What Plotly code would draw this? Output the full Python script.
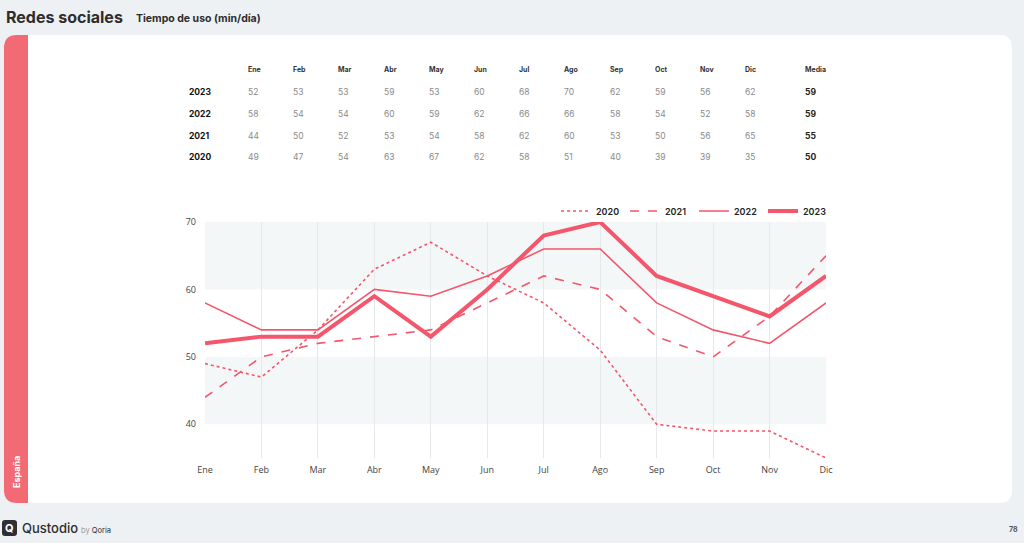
import plotly.graph_objects as go

W, H = 1024, 543

months = ["Ene", "Feb", "Mar", "Abr", "May", "Jun", "Jul", "Ago", "Sep", "Oct", "Nov", "Dic"]
years = ["2023", "2022", "2021", "2020"]
v2023 = [52, 53, 53, 59, 53, 60, 68, 70, 62, 59, 56, 62]
v2022 = [58, 54, 54, 60, 59, 62, 66, 66, 58, 54, 52, 58]
v2021 = [44, 50, 52, 53, 54, 58, 62, 60, 53, 50, 56, 65]
v2020 = [49, 47, 54, 63, 67, 62, 58, 51, 40, 39, 39, 35]
media = [59, 59, 55, 50]
y_ticks = [40, 50, 60, 70]

table_rows = [v2023, v2022, v2021, v2020]

RED = "#f4566b"
BAND = "#f26a74"
PAGE = "#eef1f4"
FONT = "Inter"


def px(x):
    return x / W


def py(y):
    return 1 - y / H


def rounded_rect(x0, y0, x1, y1, r, corners=(True, True, True, True)):
    rx, ry = r / W, r / H
    X0, X1 = px(x0), px(x1)
    Y0, Y1 = py(y0), py(y1)
    tl, tr, br, bl = corners
    p = []
    p.append(f"M {X0 + (rx if tl else 0)},{Y0}")
    if tr:
        p.append(f"L {X1 - rx},{Y0} Q {X1},{Y0} {X1},{Y0 - ry}")
    else:
        p.append(f"L {X1},{Y0}")
    if br:
        p.append(f"L {X1},{Y1 + ry} Q {X1},{Y1} {X1 - rx},{Y1}")
    else:
        p.append(f"L {X1},{Y1}")
    if bl:
        p.append(f"L {X0 + rx},{Y1} Q {X0},{Y1} {X0},{Y1 + ry}")
    else:
        p.append(f"L {X0},{Y1}")
    if tl:
        p.append(f"L {X0},{Y0 - ry} Q {X0},{Y0} {X0 + rx},{Y0}")
    p.append("Z")
    return " ".join(p)


fig = go.Figure()

styles = [
    ("2020", v2020, dict(color=RED, width=1.6, dash="dot")),
    ("2021", v2021, dict(color=RED, width=1.6, dash="dash")),
    ("2022", v2022, dict(color=RED, width=1.6)),
    ("2023", v2023, dict(color=RED, width=4)),
]
for name, vals, line in styles:
    fig.add_trace(go.Scatter(x=months, y=vals, mode="lines", name=name, line=line,
                             hoverinfo="skip"))

shapes = []
shapes.append(dict(type="path", xref="paper", yref="paper",
                   path=rounded_rect(4, 35, 1012, 503, 13), fillcolor="white",
                   line=dict(width=0), layer="below"))
shapes.append(dict(type="path", xref="paper", yref="paper",
                   path=rounded_rect(4, 35, 28, 503, 13, (True, False, False, True)),
                   fillcolor=BAND, line=dict(width=0), layer="below"))
for lo, hi in [(60, 70), (40, 50)]:
    shapes.append(dict(type="rect", xref="x domain", yref="y", x0=0, x1=1, y0=lo, y1=hi,
                       fillcolor="#f4f7f8", line=dict(width=0), layer="below"))
shapes.append(dict(type="path", xref="paper", yref="paper",
                   path=rounded_rect(2, 520, 17, 536, 3), fillcolor="#2f2f33",
                   line=dict(width=0), layer="above"))

ann = []
ann.append(dict(text="<b>Redes sociales</b>", x=px(4), y=py(17), xref="paper", yref="paper",
                xanchor="left", yanchor="middle", showarrow=False,
                font=dict(family=FONT, size=16, color="#2d2d2d")))
ann.append(dict(text="<b>Tiempo de uso (min/día)</b>", x=px(134), y=py(18), xref="paper", yref="paper",
                xanchor="left", yanchor="middle", showarrow=False,
                font=dict(family=FONT, size=10.5, color="#2d2d2d")))
col_left0, col_step = 246, 45.2
for i, m in enumerate(months):
    ann.append(dict(text=f"<b>{m}</b>", x=px(col_left0 + col_step * i), y=py(69), xref="paper",
                    yref="paper", xanchor="left", yanchor="middle", showarrow=False,
                    font=dict(family=FONT, size=7, color="#333")))
ann.append(dict(text="<b>Media</b>", x=px(803), y=py(69), xref="paper", yref="paper",
                xanchor="left", yanchor="middle", showarrow=False,
                font=dict(family=FONT, size=7, color="#333")))
row_y = [92, 114, 136, 157]
for r, (yr, vals, md) in enumerate(zip(years, table_rows, media)):
    ann.append(dict(text=f"<b>{yr}</b>", x=px(187), y=py(row_y[r]), xref="paper", yref="paper",
                    xanchor="left", yanchor="middle", showarrow=False,
                    font=dict(family=FONT, size=8.5, color="#111")))
    for i, v in enumerate(vals):
        ann.append(dict(text=str(v), x=px(col_left0 + col_step * i), y=py(row_y[r]), xref="paper",
                        yref="paper", xanchor="left", yanchor="middle", showarrow=False,
                        font=dict(family=FONT, size=8.5, color="#8a8a8a")))
    ann.append(dict(text=f"<b>{md}</b>", x=px(803), y=py(row_y[r]), xref="paper", yref="paper",
                    xanchor="left", yanchor="middle", showarrow=False,
                    font=dict(family=FONT, size=8.5, color="#222")))
ann.append(dict(text="<b>España</b>", x=px(16), y=py(472), xref="paper", yref="paper",
                xanchor="center", yanchor="middle", showarrow=False, textangle=-90,
                font=dict(family=FONT, size=9, color="white")))
ann.append(dict(text="<b>Q</b>", x=px(9.5), y=py(528), xref="paper", yref="paper",
                xanchor="center", yanchor="middle", showarrow=False,
                font=dict(family=FONT, size=11, color="white")))
ann.append(dict(text="Qustodio", x=px(20), y=py(528), xref="paper", yref="paper",
                xanchor="left", yanchor="middle", showarrow=False,
                font=dict(family=FONT, size=13, color="#2d2d2d", weight=500)))
ann.append(dict(text="<span style='color:#999'>by</span> Qoria", x=px(79), y=py(530), xref="paper",
                yref="paper", xanchor="left", yanchor="middle", showarrow=False,
                font=dict(family=FONT, size=7.5, color="#2d2d2d")))
ann.append(dict(text="<b>78</b>", x=px(1020), y=py(529), xref="paper", yref="paper",
                xanchor="right", yanchor="middle", showarrow=False,
                font=dict(family=FONT, size=7, color="#555")))

fig.update_layout(
    width=W, height=H,
    margin=dict(l=0, r=0, t=0, b=0, autoexpand=False),
    paper_bgcolor=PAGE,
    plot_bgcolor="rgba(0,0,0,0)",
    shapes=shapes,
    annotations=ann,
    showlegend=True,
    legend=dict(orientation="h", x=px(832), y=py(211), xanchor="right", yanchor="middle",
                bgcolor="rgba(0,0,0,0)", entrywidth=24, entrywidthmode="pixels",
                font=dict(family=FONT, size=9, color="#222", weight=600),
                itemwidth=30, tracegroupgap=0),
    xaxis=dict(domain=[px(205), px(826)], range=[0, 11], showgrid=True, gridcolor="#e6e9ec",
               gridwidth=1, zeroline=False, showline=False, ticks="", automargin=False,
               tickfont=dict(family="Open Sans", size=9, color="#444"), ticklabelstandoff=5),
    yaxis=dict(domain=[py(458), py(222)], range=[35, 70], tickvals=y_ticks, showgrid=False,
               zeroline=False, showline=False, ticks="", automargin=False,
               tickfont=dict(family="Open Sans", size=9, color="#444"), ticklabelstandoff=8),
)

fig.write_html("out.html")
